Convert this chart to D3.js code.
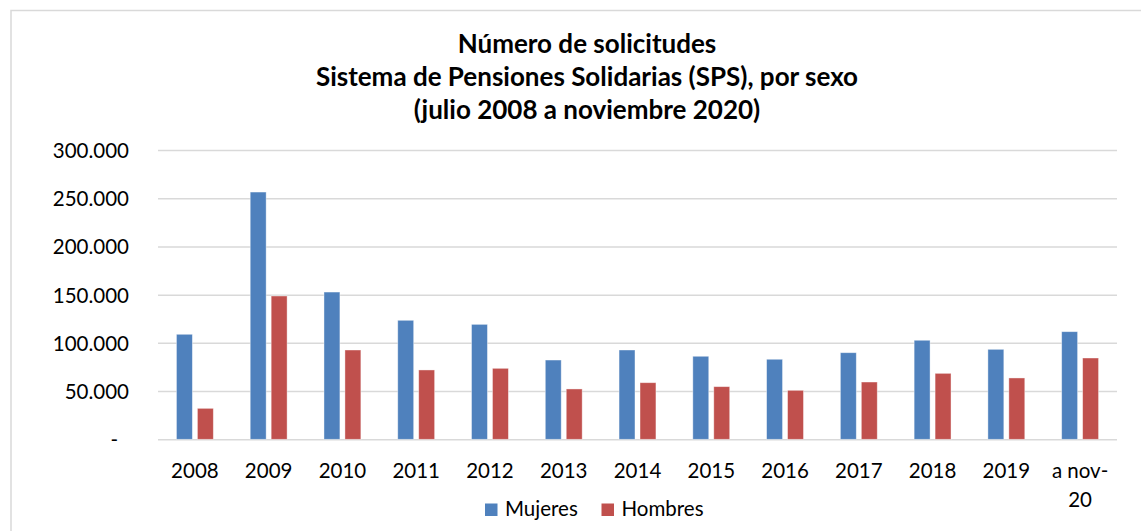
<!DOCTYPE html>
<html>
<head>
<meta charset="utf-8">
<script src="https://cdn.jsdelivr.net/npm/d3@7"></script>
<style>
  body { margin: 0; background: #fff; }
  svg { display: block; }
  text { font-family: Lato, "Open Sans", sans-serif; fill: #000; }
</style>
</head>
<body>
<div id="chart"></div>
<script>
// Data
var categories = ["2008", "2009", "2010", "2011", "2012", "2013", "2014", "2015", "2016", "2017", "2018", "2019", "a nov-20"];
var seriesNames = ["Mujeres", "Hombres"];
var mujeres = [108900, 256400, 152700, 123400, 119200, 82200, 92600, 86100, 83000, 89800, 102700, 93300, 111600];
var hombres = [32100, 148600, 92600, 71900, 73600, 52200, 58700, 54600, 50800, 59400, 68400, 63600, 84300];
var yTicks = [0, 50000, 100000, 150000, 200000, 250000, 300000];
var titleLines = ["Número de solicitudes", "Sistema de Pensiones Solidarias (SPS), por sexo", "(julio 2008 a noviembre 2020)"];

var colors = { "Mujeres": "#4F81BD", "Hombres": "#C0504D" };

var W = 1141, H = 531;
var plot = { left: 158, right: 1117, top: 150, bottom: 439.3 };

var svg = d3.select("#chart").append("svg")
    .attr("width", W)
    .attr("height", H);

// chart area border (only left and top edges fall inside the picture)
svg.append("rect")
    .attr("x", 11).attr("y", 10.5)
    .attr("width", 1200).attr("height", 600)
    .attr("fill", "none")
    .attr("stroke", "#d9d9d9")
    .attr("stroke-width", 1.5);

// title
svg.append("g").selectAll("text")
    .data(titleLines)
    .enter().append("text")
    .attr("x", 587)
    .attr("y", function(d, i) { return 53 + i * 33; })
    .attr("text-anchor", "middle")
    .attr("font-size", 26)
    .attr("font-weight", "bold")
    .text(function(d) { return d; });

// scales
var x0 = d3.scaleBand()
    .domain(categories)
    .range([plot.left, plot.right])
    .paddingInner(0.5)
    .paddingOuter(0.25);

var x1 = d3.scaleBand()
    .domain(seriesNames)
    .range([0, x0.bandwidth()])
    .paddingInner(0.24);

var y = d3.scaleLinear()
    .domain([0, 300000])
    .range([plot.bottom, plot.top]);

var es = d3.formatLocale({ decimal: ",", thousands: ".", grouping: [3], currency: ["$", ""] });
var fmt = es.format(",.0f");

// gridlines
var grid = svg.append("g")
    .attr("transform", "translate(" + plot.left + ",0)")
    .call(d3.axisLeft(y).tickValues(yTicks).tickSize(-(plot.right - plot.left)).tickFormat(""));
grid.select(".domain").remove();
grid.selectAll(".tick line").attr("stroke", "#d9d9d9").attr("stroke-width", 1.5);

// y axis labels
var yAxis = svg.append("g")
    .attr("transform", "translate(129,0)")
    .call(d3.axisLeft(y).tickValues(yTicks).tickSize(0).tickPadding(0)
        .tickFormat(function(d) { return d === 0 ? "-" : fmt(d); }));
yAxis.select(".domain").remove();
yAxis.selectAll("text")
    .attr("font-size", 20.5)
    .attr("font-family", "Lato, sans-serif")
    .attr("fill", "#000")
    .attr("dy", "0.36em")
    .attr("dx", function(d) { return d === 0 ? -11 : 0; });

// bars
var rows = categories.map(function(c, i) {
    return { cat: c, values: [ { key: "Mujeres", v: mujeres[i] }, { key: "Hombres", v: hombres[i] } ] };
});

var groups = svg.append("g").selectAll("g")
    .data(rows)
    .enter().append("g")
    .attr("transform", function(d) { return "translate(" + x0(d.cat) + ",0)"; });

groups.selectAll("rect")
    .data(function(d) { return d.values; })
    .enter().append("rect")
    .attr("x", function(d) { return x1(d.key); })
    .attr("y", function(d) { return y(d.v); })
    .attr("width", x1.bandwidth())
    .attr("height", function(d) { return y(0) - y(d.v); })
    .attr("fill", function(d) { return colors[d.key]; })
    .attr("stroke", "#fff")
    .attr("stroke-opacity", 0.5)
    .attr("stroke-width", 0.8);

// x axis labels (wrap after the hyphen)
var xAxis = svg.append("g")
    .attr("transform", "translate(0," + plot.bottom + ")")
    .call(d3.axisBottom(x0).tickSize(0).tickFormat(""));
xAxis.select(".domain").remove();

xAxis.selectAll(".tick").append("text")
    .attr("text-anchor", "middle")
    .attr("font-size", 20.5)
    .attr("fill", "#000")
    .each(function(d) {
        var parts = d.indexOf("-") >= 0 ? [d.slice(0, d.indexOf("-") + 1), d.slice(d.indexOf("-") + 1)] : [d];
        var t = d3.select(this);
        parts.forEach(function(p, i) {
            t.append("tspan").attr("x", 0).attr("y", 39 + i * 28.5).text(p);
        });
    });

// legend
var legend = svg.append("g").selectAll("g")
    .data(seriesNames)
    .enter().append("g")
    .attr("transform", function(d, i) { return "translate(" + [485, 601.5][i] + ",503.5)"; });

legend.append("rect")
    .attr("width", 12.5).attr("height", 12.5)
    .attr("fill", function(d) { return colors[d]; });

legend.append("text")
    .attr("x", 20)
    .attr("y", 12.5)
    .attr("font-size", 20.5)
    .text(function(d) { return d; });
</script>
</body>
</html>
